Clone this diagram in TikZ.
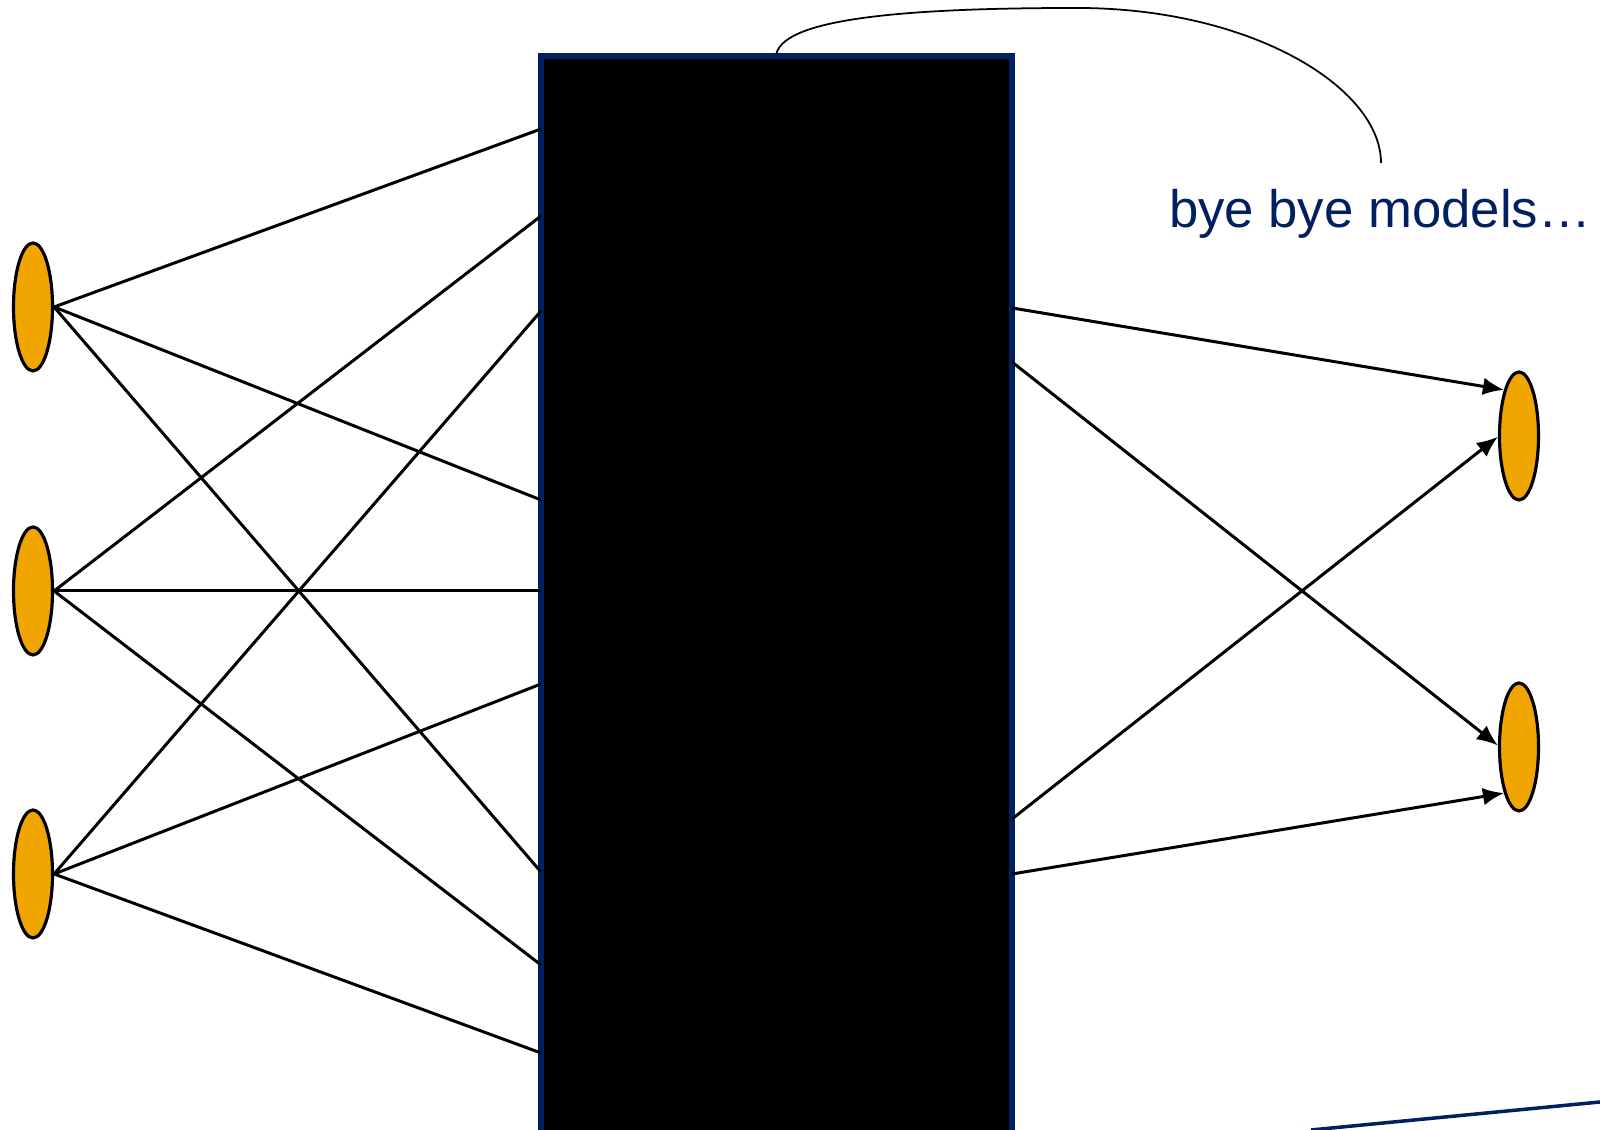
\documentclass[tikz,border=0pt]{standalone}
\usepackage{fontspec}
\setmainfont{Liberation Sans}
\usepackage{xcolor}
\usepackage{tikz}
\usetikzlibrary{shapes.geometric,arrows.meta}
\definecolor{navyblue}{RGB}{0,32,96}
\definecolor{unitorange}{RGB}{240,165,0}
\tikzset{
  unit/.style={ellipse,draw=black,line width=0.9pt,fill=unitorange,
    minimum width=0.39cm,minimum height=1.28cm,inner sep=0pt},
  wire/.style={line width=0.85pt},
  outwire/.style={wire,-{Latex[length=6pt,width=5pt]}}
}
\begin{document}
\begin{tikzpicture}
    \useasboundingbox (0,0) rectangle (16,11.3);
    % Black box
    \node[fill=black,draw=navyblue,line width=1.6pt,minimum width=4.71cm,
      minimum height=11.04cm,inner sep=0pt] (blackbox) at (7.765,5.22) {};
    % Input units
    \node[unit] (in1) at (0.33,8.23) {};
    \node[unit] (in2) at (0.33,5.39) {};
    \node[unit] (in3) at (0.33,2.56) {};
    % Output units
    \node[unit] (out1) at (15.19,6.94) {};
    \node[unit] (out2) at (15.19,3.83) {};
    % Points on the left edge of the box
    \coordinate (a1) at (5.41,10.01);
    \coordinate (a2) at (5.41,6.30);
    \coordinate (a3) at (5.41,2.58);
    \coordinate (b1) at (5.41,9.14);
    \coordinate (b2) at (5.41,5.39);
    \coordinate (b3) at (5.41,1.65);
    \coordinate (c1) at (5.41,8.19);
    \coordinate (c2) at (5.41,4.46);
    \coordinate (c3) at (5.41,0.77);
    \draw[wire] (in1.east) -- (a1);
    \draw[wire] (in1.east) -- (a2);
    \draw[wire] (in1.east) -- (a3);
    \draw[wire] (in2.east) -- (b1);
    \draw[wire] (in2.east) -- (b2);
    \draw[wire] (in2.east) -- (b3);
    \draw[wire] (in3.east) -- (c1);
    \draw[wire] (in3.east) -- (c2);
    \draw[wire] (in3.east) -- (c3);
    % Points on the right edge of the box
    \coordinate (r1) at (10.12,8.22);
    \coordinate (r2) at (10.12,7.68);
    \coordinate (r3) at (10.12,3.11);
    \coordinate (r4) at (10.12,2.56);
    \draw[outwire] (r1) -- (out1.108);
    \draw[outwire] (r2) -- (out2.176);
    \draw[outwire] (r3) -- (out1.182);
    \draw[outwire] (r4) -- (out2.252);
    % Callout
    \node[text=navyblue,font=\fontsize{15}{18}\selectfont] (byelabel) at (13.80,9.16) {bye bye models…};
    \coordinate (callout) at (13.81,9.67);
    \draw[line width=0.5pt] (blackbox.north) .. controls +(0.1,0.35) and +(-1.7,0) .. (10.77,11.22)
      .. controls +(1.75,0) and +(0,0.75) .. (callout);
    % Blue line at the bottom
    \coordinate (lineA) at (13.11,0);
    \coordinate (lineB) at (16.0,0.28);
    \draw[navyblue,line width=1pt] (lineA) -- (lineB);
\end{tikzpicture}
\end{document}
